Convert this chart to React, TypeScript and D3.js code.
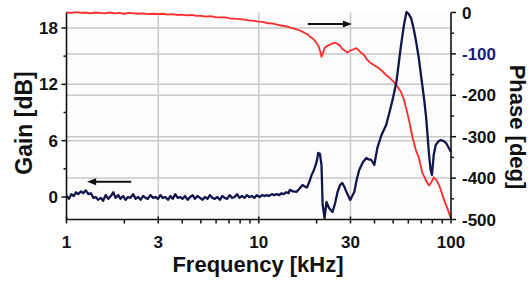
import React from "react";
import * as d3 from "d3";

// ---- Data ----
const gainFreq = [
  1.0, 1.03, 1.06, 1.09, 1.12, 1.15, 1.19, 1.22, 1.26, 1.3, 1.34, 1.38, 1.42, 1.46, 1.51, 1.55, 1.6, 1.65, 1.7, 1.75,
  1.8, 1.86, 1.91, 1.97, 2.03, 2.09, 2.15, 2.22, 2.29, 2.36, 2.43, 2.5, 2.58, 2.65, 2.73, 2.82, 2.9, 2.99, 3.08, 3.17,
  3.27, 3.37, 3.47, 3.57, 3.68, 3.79, 3.9, 4.02, 4.14, 4.27, 4.4, 4.53, 4.66, 4.8, 4.95, 5.1, 5.25, 5.41, 5.57, 5.74,
  5.91, 6.09, 6.27, 6.46, 6.65, 6.85, 7.06, 7.27, 7.49, 7.71, 7.94, 8.18, 8.43, 8.68, 8.94, 9.21, 9.49, 9.77, 10.1, 10.4,
  10.7, 11.0, 11.3, 11.7, 12.0, 12.4, 12.8, 13.1, 13.5, 13.9, 14.3,
  14.5, 15.1, 15.7, 16.3, 16.9, 17.4, 17.8, 18.4, 18.8, 19.4, 20.0, 20.4, 20.8, 21.2, 21.5, 22.0, 22.5, 23.2, 24.2,
  25.0, 25.7, 26.5, 27.2, 28.0, 28.6, 29.9, 31.4, 32.3, 33.3, 34.8, 36.3, 37.3, 38.5, 39.9, 41.4, 43.5, 46.0, 47.9,
  50.0, 52.0, 55.0, 57.0, 58.7, 60.2, 62.0, 64.0, 65.9, 68.0, 70.1, 72.6, 74.3, 76.9, 78.3, 79.6, 81.3, 83.3, 85.8,
  88.6, 91.5, 94.3, 97.0, 100,
];
const gainDb = [
  0.1, -0.2, 0.3, 0.1, 0.5, 0.3, 0.6, 0.4, 0.7, 0.3, 0.4, -0.1, 0.0, -0.3, -0.1, -0.4, 0.2, -0.2, 0.1, 0.5,
  -0.1, 0.2, -0.2, 0.1, -0.3, 0.0, -0.1, 0.3, -0.2, 0.0, -0.3, 0.1, -0.1, -0.2, 0.2, -0.1, 0.0, -0.2, 0.2, -0.1,
  0.0, -0.3, 0.1, -0.2, 0.3, -0.1, 0.0, -0.2, 0.1, -0.3, 0.0, 0.2, -0.2, 0.1, -0.1, -0.3, 0.0, -0.2, 0.2, -0.1,
  -0.2, 0.0, -0.3, 0.1, -0.1, -0.2, 0.2, -0.1, 0.0, 0.3, -0.1, 0.1, -0.1, 0.2, 0.0, 0.1, -0.1, 0.2, 0.0, 0.2,
  0.1, 0.2, 0.1, 0.3, 0.2, 0.3, 0.2, 0.4, 0.3, 0.5, 0.4,
  0.75, 0.6, 0.53, 0.9, 1.28, 1.1, 1.0, 1.7, 2.3, 2.9, 3.73, 4.69, 4.6, 3.41, -0.85, -2.24, -0.53, -1.17, -1.6,
  -0.6, 0.53, 1.3, 1.49, 1.0, 0.53, -0.32, 0.53, 1.8, 2.88, 3.7, 4.15, 4.0, 3.94, 3.41, 5.22, 6.6, 7.67, 9.05,
  10.6, 12.25, 16.2, 18.4, 19.7, 19.5, 19.06, 17.9, 16.5, 14.8, 12.7, 10.3, 8.4, 4.47, 2.9, 2.34, 4.47, 5.54, 5.9,
  6.07, 5.95, 5.75, 5.3, 4.79,
];

const phaseFreq = [
  1.0, 1.06, 1.12, 1.19, 1.26, 1.33, 1.41, 1.5, 1.58, 1.68, 1.78, 1.88, 2.0, 2.11, 2.24, 2.37, 2.51, 2.66, 2.82, 2.99,
  3.16, 3.35, 3.55, 3.76, 3.98, 4.22, 4.47, 4.73, 5.01, 5.31, 5.62, 5.96, 6.31, 6.68, 7.08, 7.5, 7.94, 8.41, 8.91, 9.44,
  10.0, 10.6, 11.2, 11.9, 12.6, 13.3, 14.1, 14.9, 15.8, 16.7, 17.4, 18.0, 18.4, 19.0, 19.6, 20.0, 20.5, 21.0, 21.2, 21.5,
  22.0, 22.6, 23.2, 24.0, 25.0, 25.7, 26.5, 27.2, 28.0, 28.9, 29.8, 30.8, 32.2, 33.2, 34.2, 35.5, 36.6, 37.7, 39.5, 41.4,
  43.5, 46.0, 48.0, 50.5, 52.5, 55.0, 57.0, 58.4, 60.6, 63.0, 65.9, 68.0, 70.8, 74.0, 76.9, 79.0, 81.3, 84.0, 86.9, 91.5,
  95.5, 100,
];
const phaseDeg = [
  0, -1, 1, -1, 0, -2, 0, -1, -2, 0, -2, -1, -3, -1, -2, -3, -2, -4, -3, -4,
  -3, -5, -4, -6, -5, -7, -6, -8, -8, -10, -9, -11, -12, -12, -14, -15, -16, -17, -19, -20,
  -22, -23, -26, -27, -30, -32, -34, -38, -41, -45, -50, -53, -58, -62, -68, -74, -82, -98, -107, -100,
  -86, -81, -79, -75, -73, -76, -80, -88, -92, -97, -92, -90, -86, -92, -98, -104, -114, -120, -126, -132,
  -140, -151, -158, -168, -178, -192, -212, -231, -262, -300, -335, -350, -386, -405, -418, -410, -398, -405, -418, -449,
  -472, -498,
];

const freqTicks = [1, 3, 10, 30, 100];
const freqMinor = [2, 4, 5, 6, 7, 8, 9, 20, 40, 50, 60, 70, 80, 90];
const gainTicks = [0, 6, 12, 18];
const gainMinor = [3, 9, 15];
const phaseTicks = [0, -100, -200, -300, -400, -500];
const phaseMinor = [-50, -150, -250, -350, -450];

const W = 531;
const H = 289;
const L = 66.5;
const R = 451;
const T = 12.5;
const B = 219.5;
const FONT = "'Liberation Sans', Arial, Helvetica, sans-serif";
const NAVY = "#13164d";
const RED = "#ff2a2a";
const GRID = "#c9c9c9";

export default function App() {
  const x = d3.scaleLog().domain([1, 100]).range([L, R]);
  const yG = d3.scaleLinear().domain([-2.4, 19.65]).range([B, T]);
  const yP = d3.scaleLinear().domain([-500, 0]).range([B, T]);

  const gainLine = d3
    .line<number>()
    .x((_, i) => x(gainFreq[i]))
    .y((d) => yG(d));
  const phaseLine = d3
    .line<number>()
    .x((_, i) => x(phaseFreq[i]))
    .y((d) => yP(d));

  const arrowL = { from: [2.17, 1.63], to: [1.28, 1.63] };
  const arrowR = { from: [18.0, -28], to: [30.5, -28] };

  const ax1 = x(arrowL.from[0]);
  const ax2 = x(arrowL.to[0]);
  const ay = yG(arrowL.from[1]);
  const bx1 = x(arrowR.from[0]);
  const bx2 = x(arrowR.to[0]);
  const by = yP(arrowR.from[1]);

  return (
    <svg width={W} height={H} style={{ position: "absolute", left: 0, top: 0, background: "#fff" }}>
      <rect x={L} y={T} width={R - L} height={B - T} fill="#fcfcfc" />
      {/* grid */}
      {[3, 10, 30].map((v) => (
        <line key={"vx" + v} x1={x(v)} x2={x(v)} y1={T} y2={B} stroke={GRID} strokeWidth={1.5} />
      ))}
      {[6, 12, 18].map((v) => (
        <line key={"gy" + v} x1={L} x2={R} y1={yG(v)} y2={yG(v)} stroke={GRID} strokeWidth={1.5} />
      ))}
      {[-100, -200, -300, -400].map((v) => (
        <line key={"py" + v} x1={L} x2={R} y1={yP(v)} y2={yP(v)} stroke={GRID} strokeWidth={1.5} />
      ))}

      {/* data */}
      <path d={phaseLine(phaseDeg) || ""} fill="none" stroke={RED} strokeWidth={1.8} strokeLinejoin="round" />
      <path d={gainLine(gainDb) || ""} fill="none" stroke={NAVY} strokeWidth={2.3} strokeLinejoin="round" />

      {/* arrows */}
      <line x1={ax1} x2={ax2 + 7} y1={ay} y2={ay} stroke="#111" strokeWidth={2} />
      <path d={`M${ax2},${ay} L${ax2 + 9},${ay - 3.5} L${ax2 + 9},${ay + 3.5} Z`} fill="#111" />
      <line x1={bx1} x2={bx2 - 7} y1={by} y2={by} stroke="#111" strokeWidth={2} />
      <path d={`M${bx2},${by} L${bx2 - 9},${by - 3.5} L${bx2 - 9},${by + 3.5} Z`} fill="#111" />

      {/* axes lines */}
      <line x1={L} x2={L} y1={T} y2={B} stroke="#111" strokeWidth={1.6} />
      <line x1={R} x2={R} y1={T} y2={B} stroke="#111" strokeWidth={1.6} />
      <line x1={L} x2={R} y1={B} y2={B} stroke="#111" strokeWidth={1.6} />

      {/* bottom ticks */}
      {freqTicks.map((v) => (
        <line key={"ft" + v} x1={x(v)} x2={x(v)} y1={B - 3} y2={B + 4} stroke="#111" strokeWidth={1.5} />
      ))}
      {freqMinor.map((v) => (
        <line key={"fm" + v} x1={x(v)} x2={x(v)} y1={B} y2={B + 4} stroke="#111" strokeWidth={1.5} />
      ))}
      {freqTicks.map((v) => (
        <text key={"fl" + v} x={x(v)} y={247.5} textAnchor="middle" fontFamily={FONT} fontWeight="bold" fontSize={17} fill="#111">
          {v}
        </text>
      ))}

      {/* left ticks */}
      {gainTicks.map((v) => (
        <line key={"gt" + v} x1={L - 5} x2={L} y1={yG(v)} y2={yG(v)} stroke="#111" strokeWidth={1.5} />
      ))}
      {gainMinor.map((v) => (
        <line key={"gm" + v} x1={L - 3} x2={L} y1={yG(v)} y2={yG(v)} stroke="#111" strokeWidth={1.5} />
      ))}
      {gainTicks.map((v) => (
        <text key={"gl" + v} x={58} y={yG(v)} dy="0.36em" textAnchor="end" fontFamily={FONT} fontWeight="bold" fontSize={17} fill="#111">
          {v}
        </text>
      ))}

      {/* right ticks */}
      {phaseTicks.map((v) => (
        <line key={"pt" + v} x1={R} x2={R + 5} y1={yP(v)} y2={yP(v)} stroke="#111" strokeWidth={1.5} />
      ))}
      {phaseMinor.map((v) => (
        <line key={"pm" + v} x1={R} x2={R + 3} y1={yP(v)} y2={yP(v)} stroke="#111" strokeWidth={1.5} />
      ))}
      {phaseTicks.map((v) => (
        <text key={"pl" + v} x={462} y={yP(v)} dy="0.36em" textAnchor="start" fontFamily={FONT} fontWeight="bold" fontSize={17} fill={v === -100 ? "#1c1c78" : "#111"}>
          {v}
        </text>
      ))}

      {/* titles */}
      <text transform="translate(32,123) rotate(-90)" textAnchor="middle" fontFamily={FONT} fontWeight="bold" fontSize={23} fill="#111">
        Gain [dB]
      </text>
      <text transform="translate(510,127) rotate(90)" textAnchor="middle" fontFamily={FONT} fontWeight="bold" fontSize={22} fill="#111">
        Phase [deg]
      </text>
      <text x={258} y={271.5} textAnchor="middle" fontFamily={FONT} fontWeight="bold" fontSize={22} fill="#111">
        Frequency [kHz]
      </text>
    </svg>
  );
}
